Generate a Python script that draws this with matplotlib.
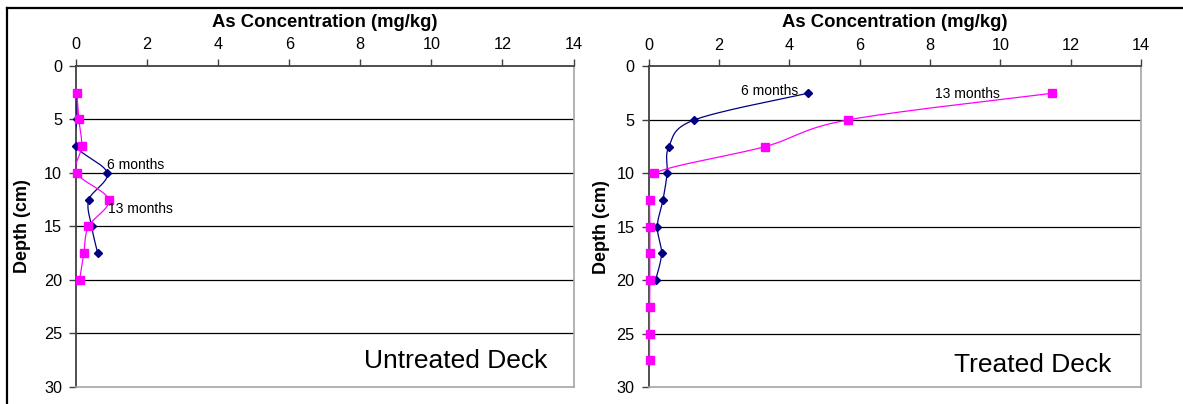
import numpy as np
import matplotlib
matplotlib.use("Agg")
import matplotlib.pyplot as plt
from matplotlib.lines import Line2D

plt.rcParams['font.family'] = ['Liberation Sans', 'DejaVu Sans']

# ---- data ----
untreated_6_depth = [2.5, 5, 7.5, 10, 12.5, 15, 17.5]
untreated_6_conc = [0.03, 0.03, 0.0, 0.88, 0.36, 0.44, 0.61]
untreated_13_depth = [2.5, 5, 7.5, 10, 12.5, 15, 17.5, 20]
untreated_13_conc = [0.02, 0.08, 0.16, 0.02, 0.92, 0.35, 0.22, 0.10]

treated_6_depth = [2.5, 5, 7.5, 10, 12.5, 15, 17.5, 20]
treated_6_conc = [4.53, 1.30, 0.58, 0.53, 0.41, 0.25, 0.37, 0.20]
treated_13_depth = [2.5, 5, 7.5, 10, 12.5, 15, 17.5, 20, 22.5, 25, 27.5]
treated_13_conc = [11.48, 5.67, 3.31, 0.16, 0.04, 0.04, 0.04, 0.04, 0.03, 0.03, 0.03]

x_ticks = [0, 2, 4, 6, 8, 10, 12, 14]
y_ticks = [0, 5, 10, 15, 20, 25, 30]

W, H = 1183, 404
fig = plt.figure(figsize=(W / 100, H / 100), dpi=100)


def smooth(ax, xs, ys, n=30):
    """Excel-like smooth curve (Bezier through points) computed in display space."""
    pts = ax.transData.transform(np.column_stack([xs, ys]))
    m = len(pts)
    out = []
    for i in range(m - 1):
        p0 = pts[i - 1] if i > 0 else pts[i]
        p1 = pts[i]
        p2 = pts[i + 1]
        p3 = pts[i + 2] if i + 2 < m else pts[i + 1]
        c1 = p1 + (p2 - p0) / 6.0
        c2 = p2 - (p3 - p1) / 6.0
        t = np.linspace(0, 1, n)[:, None]
        seg = ((1 - t) ** 3) * p1 + 3 * ((1 - t) ** 2) * t * c1 + 3 * (1 - t) * t ** 2 * c2 + t ** 3 * p2
        out.append(seg if i == 0 else seg[1:])
    out = np.vstack(out)
    d = ax.transData.inverted().transform(out)
    return d[:, 0], d[:, 1]


def make_axes(px_left, px_right, px_top, px_bottom, ylabel_px):
    ax = fig.add_axes([px_left / W, 1 - px_bottom / H, (px_right - px_left) / W, (px_bottom - px_top) / H])
    ax.set_xlim(0, 14)
    ax.set_ylim(30, 0)
    ax.xaxis.set_ticks_position('top')
    ax.xaxis.set_label_position('top')
    ax.set_xticks(x_ticks)
    ax.set_yticks(y_ticks)
    ax.tick_params(axis='both', direction='out', length=5, width=1, color='#404040',
                   labelsize=11.7)
    ax.tick_params(axis='x', pad=5)
    ax.tick_params(axis='y', pad=5)
    for y in y_ticks[1:-1]:
        ax.axhline(y, color='black', lw=0.9, zorder=1)
    ax.spines['left'].set_color('#404040')
    ax.spines['top'].set_color('#404040')
    ax.spines['left'].set_linewidth(1.3)
    ax.spines['top'].set_linewidth(1.3)
    ax.spines['right'].set_color('#a6a6a6')
    ax.spines['bottom'].set_color('#a6a6a6')
    ax.spines['right'].set_linewidth(1.2)
    ax.spines['bottom'].set_linewidth(1.2)
    ax.set_xlabel('As Concentration (mg/kg)', fontsize=13.3, fontweight='bold')
    ax.xaxis.label.set_va('center')
    ax.xaxis.set_label_coords(0.5, (px_bottom - 22.7) / (px_bottom - px_top))
    ax.set_ylabel('Depth (cm)', fontsize=13, fontweight='bold')
    ax.yaxis.label.set_va('center')
    ax.yaxis.set_label_coords((ylabel_px - px_left) / (px_right - px_left), 0.5)
    return ax


def draw_series(ax, conc, depth, color, marker, ms):
    sx, sy = smooth(ax, conc, depth)
    ax.plot(sx, sy, color=color, lw=0.9, zorder=3)
    ax.plot(conc, depth, linestyle='none', marker=marker, color=color, ms=ms, zorder=4, clip_on=False)


ax1 = make_axes(76, 573.5, 66, 387, 23)
ax2 = make_axes(648.5, 1141, 66.5, 387, 601)

draw_series(ax1, untreated_6_conc, untreated_6_depth, '#000080', 'D', 4.5)
draw_series(ax1, untreated_13_conc, untreated_13_depth, '#ff00ff', 's', 5.2)
draw_series(ax2, treated_6_conc, treated_6_depth, '#000080', 'D', 4.5)
draw_series(ax2, treated_13_conc, treated_13_depth, '#ff00ff', 's', 5.2)

ax1.text(0.87, 9.25, '6 months', fontsize=10, ha='left', va='center', zorder=5)
ax1.text(0.91, 13.4, '13 months', fontsize=10, ha='left', va='center', zorder=5)
ax2.text(2.62, 2.29, '6 months', fontsize=10, ha='left', va='center', zorder=5)
ax2.text(8.15, 2.6, '13 months', fontsize=10, ha='left', va='center', zorder=5)

ax1.text(13.26, 27.57, 'Untreated Deck', fontsize=19, ha='right', va='center', zorder=5)
ax2.text(13.17, 27.9, 'Treated Deck', fontsize=19, ha='right', va='center', zorder=5)

# outer frame
fig.add_artist(Line2D([7 / W, 1.0], [1 - 8 / H, 1 - 8 / H], transform=fig.transFigure, color='black', lw=1.6))
fig.add_artist(Line2D([7 / W, 7 / W], [0, 1 - 8 / H], transform=fig.transFigure, color='black', lw=1.6))

fig.savefig('out.png', dpi=100)
